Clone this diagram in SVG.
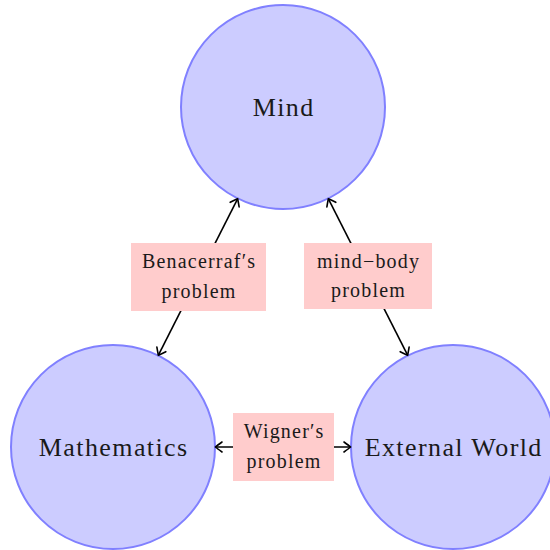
<svg xmlns="http://www.w3.org/2000/svg" width="550" height="550" viewBox="0 0 550 550">
<style>
.node{fill:#ccccff;stroke:#8080ff;stroke-width:2}
.big{font-family:"Liberation Serif","DejaVu Serif",serif;font-size:26px;fill:#1a1a1a;text-anchor:middle;letter-spacing:1.4px}
.lbl{fill:#ffcccc;stroke:none}
.sm{font-family:"Liberation Serif","DejaVu Serif",serif;font-size:20px;fill:#1a1a1a;text-anchor:middle;letter-spacing:1.2px}
.edge{stroke:#000;stroke-width:1.6;fill:none}
</style>
<defs>
<marker id="arr" viewBox="-9 -7 11 14" markerWidth="11" markerHeight="14" refX="0" refY="0" orient="auto-start-reverse" markerUnits="userSpaceOnUse">
<path d="M -6.5 -5 Q -1.5 -1.3 0 0 Q -1.5 1.3 -6.5 5" fill="none" stroke="#000" stroke-width="1.6" stroke-linecap="round"/>
</marker>
</defs>
<g id="mind"><circle class="node" cx="283" cy="107" r="102"/><text class="big" x="283.7" y="116">Mind</text></g>
<g id="mathematics"><circle class="node" cx="113" cy="447" r="102"/><text class="big" x="113.7" y="456">Mathematics</text></g>
<g id="external"><circle class="node" cx="453" cy="447" r="102"/><text class="big" x="453.7" y="456">External World</text></g>
<g id="connectors">
<line class="edge" x1="237.6" y1="198.8" x2="158.4" y2="355.2" marker-start="url(#arr)" marker-end="url(#arr)"/>
<line class="edge" x1="328.4" y1="198.8" x2="407.6" y2="355.2" marker-start="url(#arr)" marker-end="url(#arr)"/>
<line class="edge" x1="215.5" y1="447" x2="350.5" y2="447" marker-start="url(#arr)" marker-end="url(#arr)"/>
<g id="lbl-benacerraf"><rect class="lbl" x="131" y="243" width="135" height="68"/><text class="sm" x="199.1" y="268">Benacerraf′s</text><text class="sm" x="199.1" y="298">problem</text></g>
<g id="lbl-mindbody"><rect class="lbl" x="304" y="243" width="128" height="66"/><text class="sm" x="368.6" y="268">mind−body</text><text class="sm" x="368.6" y="297">problem</text></g>
<g id="lbl-wigner"><rect class="lbl" x="233" y="413" width="101" height="68"/><text class="sm" x="284.1" y="438">Wigner′s</text><text class="sm" x="284.1" y="468">problem</text></g>
</g>
</svg>
